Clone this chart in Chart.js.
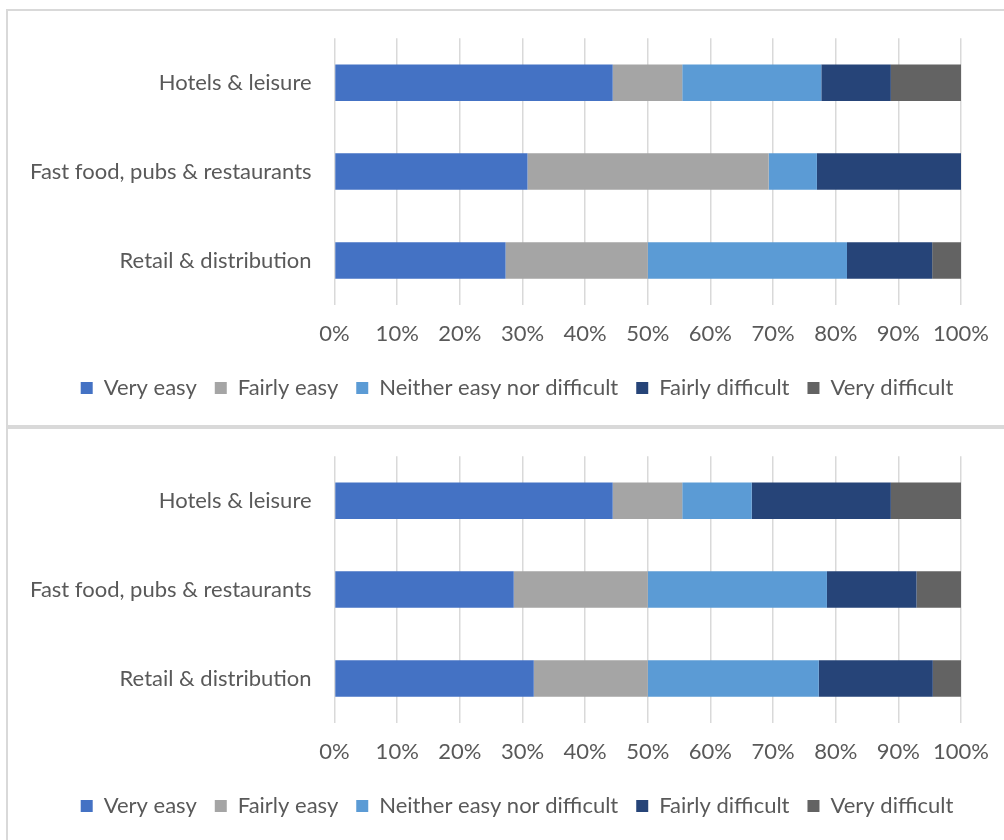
<!DOCTYPE html>
<html>
<head>
<meta charset="utf-8">
<script src="https://cdn.jsdelivr.net/npm/chart.js@4.4.1/dist/chart.umd.min.js"></script>
<style>
    body { margin: 0; width: 1004px; height: 840px; overflow: hidden; background: #fff; }
    .panel { position: absolute; left: 6px; width: 1040px; height: 414px; border: 2px solid #d9d9d9; }
    .panel canvas { position: absolute; left: -1px; top: -9px; }
</style>
</head>
<body>
<div class="panel" style="top: 9px;"><canvas id="chartTop" width="1033" height="423"></canvas></div>
<div class="panel" style="top: 427px;"><canvas id="chartBottom" width="1033" height="423"></canvas></div>
<script>
const categories = ['Hotels & leisure', 'Fast food, pubs & restaurants', 'Retail & distribution'];
const seriesNames = ['Very easy', 'Fairly easy', 'Neither easy nor difficult', 'Fairly difficult', 'Very difficult'];
const seriesColors = ['#4472C4', '#A5A5A5', '#5B9BD5', '#264478', '#636363'];

// top chart (%)
const veryEasyTop = [44.4, 30.8, 27.3];
const fairlyEasyTop = [11.1, 38.5, 22.7];
const neitherTop = [22.2, 7.7, 31.8];
const fairlyDifficultTop = [11.1, 23.0, 13.6];
const veryDifficultTop = [11.2, 0, 4.6];

// bottom chart (%)
const veryEasyBottom = [44.4, 28.6, 31.8];
const fairlyEasyBottom = [11.1, 21.4, 18.2];
const neitherBottom = [11.1, 28.6, 27.3];
const fairlyDifficultBottom = [22.2, 14.3, 18.2];
const veryDifficultBottom = [11.2, 7.1, 4.5];

const tickValues = [0, 10, 20, 30, 40, 50, 60, 70, 80, 90, 100];

const fontFamily = "Lato, 'Open Sans', sans-serif";
const textColor = '#595959';

function makeChart(id, values) {
    const datasets = values.map((data, i) => ({
        label: seriesNames[i],
        data: data,
        backgroundColor: seriesColors[i],
        borderWidth: 0,
        barPercentage: 0.41,
        categoryPercentage: 1
    }));

    new Chart(document.getElementById(id), {
        type: 'bar',
        data: { labels: categories, datasets: datasets },
        options: {
            indexAxis: 'y',
            responsive: false,
            animation: false,
            layout: { padding: { top: 0, right: 13, bottom: 16, left: 0 } },
            scales: {
                x: {
                    stacked: true,
                    min: 0,
                    max: 100,
                    afterBuildTicks: axis => { axis.ticks = tickValues.map(v => ({ value: v })); },
                    // the chart box runs past the right edge of the picture,
                    // so keep the plot narrower than the legend's box
                    afterFit: axis => {
                        axis.paddingRight = 79;
                        axis.height -= 4;
                    },
                    grid: { color: '#d9d9d9', lineWidth: 1.5, drawTicks: false },
                    border: { display: false },
                    ticks: {
                        padding: 18,
                        color: textColor,
                        font: { family: fontFamily, size: 22, lineHeight: 1 },
                        callback: value => value + '%'
                    }
                },
                y: {
                    stacked: true,
                    grid: { display: false, drawTicks: false },
                    border: { display: false },
                    ticks: {
                        padding: 23,
                        color: textColor,
                        font: { family: fontFamily, size: 22 }
                    }
                }
            },
            plugins: {
                legend: {
                    position: 'bottom',
                    labels: {
                        boxWidth: 12,
                        boxHeight: 12,
                        padding: 18,
                        color: textColor,
                        font: { family: fontFamily, size: 22 }
                    }
                },
                tooltip: { enabled: false }
            }
        }
    });
}

makeChart('chartTop', [veryEasyTop, fairlyEasyTop, neitherTop, fairlyDifficultTop, veryDifficultTop]);
makeChart('chartBottom', [veryEasyBottom, fairlyEasyBottom, neitherBottom, fairlyDifficultBottom, veryDifficultBottom]);
</script>
</body>
</html>
